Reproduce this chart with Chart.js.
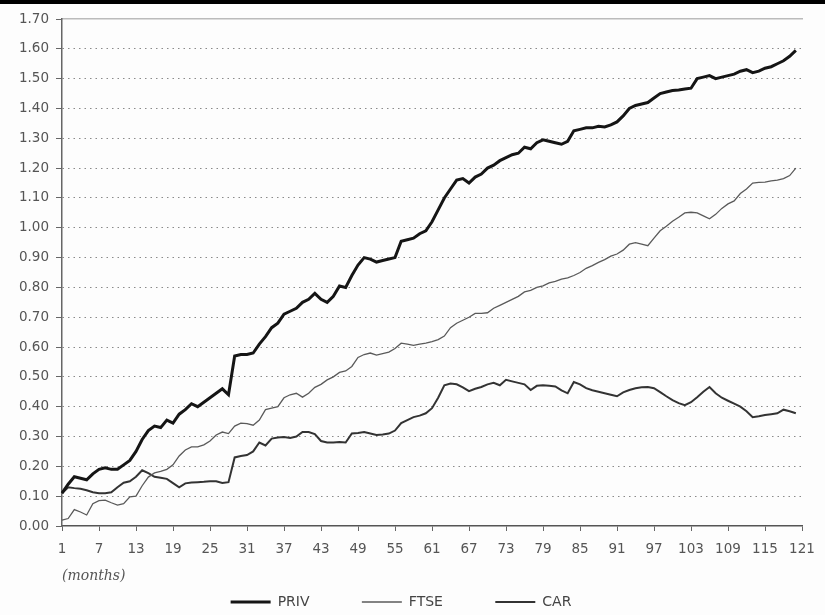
<!DOCTYPE html>
<html>
<head>
<meta charset="utf-8">
<script src="https://cdn.jsdelivr.net/npm/chart.js@4.4.1/dist/chart.umd.min.js"></script>
<style>
  html, body { margin: 0; padding: 0; background: #fdfdfd; }
  #wrap { position: relative; width: 825px; height: 615px; overflow: hidden; }
  #topbar { position: absolute; left: 0; top: 0; width: 825px; height: 4px; background: #000; }
  #note { position: absolute; left: 62px; top: 567px; font: italic 14px "DejaVu Serif", serif; color: #555; }
</style>
</head>
<body>
<div id="wrap">
  <canvas id="chart1" width="825" height="615"></canvas>
  <div id="topbar"></div>
  <div id="note">(months)</div>
</div>
<script>
// month index along the x axis (1..121)
let months = []
for (let i = 1; i <= 121; i++) { months.push(String(i)) }

// cumulative returns
const priv = [
  0.11, 0.14, 0.165, 0.16, 0.155, 0.175, 0.19, 0.195, 0.19, 0.19,
  0.205, 0.22, 0.25, 0.29, 0.32, 0.335, 0.33, 0.355, 0.345, 0.375,
  0.39, 0.41, 0.40, 0.415, 0.43, 0.445, 0.46, 0.44, 0.57, 0.575,
  0.575, 0.58, 0.61, 0.635, 0.665, 0.68, 0.71, 0.72, 0.73, 0.75,
  0.76, 0.78, 0.76, 0.75, 0.77, 0.805, 0.80, 0.84, 0.875, 0.90,
  0.895, 0.885, 0.89, 0.895, 0.90, 0.955, 0.96, 0.965, 0.98, 0.99,
  1.02, 1.06, 1.10, 1.13, 1.16, 1.165, 1.15, 1.17, 1.18, 1.20,
  1.21, 1.225, 1.235, 1.245, 1.25, 1.27, 1.265, 1.285, 1.295, 1.29,
  1.285, 1.28, 1.29, 1.325, 1.33, 1.335, 1.335, 1.34, 1.338, 1.345,
  1.355, 1.375, 1.40, 1.41, 1.415, 1.42, 1.435, 1.45, 1.455, 1.46,
  1.462, 1.465, 1.468, 1.50, 1.505, 1.51, 1.50, 1.505, 1.51, 1.515,
  1.525, 1.53, 1.52, 1.525, 1.535, 1.54, 1.55, 1.56, 1.575, 1.595
]
const ftse = [
  0.02, 0.025, 0.055, 0.047, 0.037, 0.075, 0.085, 0.087, 0.078, 0.07,
  0.075, 0.098, 0.10, 0.135, 0.164, 0.178, 0.183, 0.19, 0.205, 0.235,
  0.255, 0.265, 0.265, 0.272, 0.285, 0.305, 0.315, 0.31, 0.335, 0.345,
  0.343, 0.338, 0.355, 0.39, 0.395, 0.40, 0.43, 0.44, 0.445, 0.432,
  0.445, 0.465, 0.475, 0.49, 0.50, 0.515, 0.52, 0.535, 0.565, 0.575,
  0.58, 0.573, 0.578, 0.583, 0.595, 0.613, 0.61, 0.606, 0.61, 0.613,
  0.618, 0.625, 0.637, 0.665, 0.68, 0.69, 0.70, 0.713, 0.713, 0.715,
  0.73, 0.74, 0.75, 0.76, 0.77, 0.785, 0.79, 0.80, 0.805, 0.815,
  0.82, 0.828, 0.832, 0.84, 0.85, 0.864, 0.873, 0.884, 0.893, 0.905,
  0.912, 0.925, 0.945, 0.95, 0.945, 0.94, 0.965, 0.99, 1.005, 1.022,
  1.035, 1.05, 1.052, 1.05, 1.04, 1.03, 1.045, 1.065, 1.08, 1.09,
  1.115, 1.13, 1.15, 1.152, 1.153, 1.157, 1.16, 1.165, 1.175, 1.20
]
const car = [
  0.11, 0.13, 0.127, 0.125, 0.12, 0.113, 0.11, 0.11, 0.113, 0.13,
  0.145, 0.15, 0.165, 0.187, 0.177, 0.165, 0.162, 0.158, 0.144, 0.13,
  0.143, 0.146, 0.147, 0.148, 0.15, 0.15, 0.144, 0.147, 0.23, 0.235,
  0.238, 0.25, 0.28, 0.27, 0.293, 0.297, 0.298, 0.295, 0.30, 0.315,
  0.315, 0.308, 0.285, 0.28, 0.28, 0.282, 0.28, 0.31, 0.312, 0.315,
  0.31, 0.305, 0.307, 0.31, 0.32, 0.345, 0.355, 0.365, 0.37, 0.378,
  0.395, 0.43, 0.472, 0.478, 0.475, 0.465, 0.452, 0.46, 0.466, 0.475,
  0.48, 0.472, 0.49, 0.485, 0.48, 0.475, 0.456, 0.47, 0.472, 0.47,
  0.468, 0.455, 0.445, 0.483, 0.475, 0.462, 0.455, 0.45, 0.445, 0.44,
  0.435, 0.448, 0.456, 0.462, 0.465, 0.466, 0.462, 0.449, 0.435, 0.422,
  0.412, 0.405, 0.415, 0.432, 0.45, 0.466, 0.445, 0.43, 0.42, 0.41,
  0.40, 0.385, 0.365, 0.368, 0.372, 0.375, 0.378, 0.39, 0.385, 0.378
]

const axisFont = { family: "DejaVu Sans", size: 13.5 }

// first dataset is drawn on top
const data1 = {
  labels: months,
  datasets: [
    { label: "PRIV", data: priv, borderColor: "#151515", borderWidth: 3 },
    { label: "FTSE", data: ftse, borderColor: "#5a5a5a", borderWidth: 1.3 },
    { label: "CAR", data: car, borderColor: "#333333", borderWidth: 2 },
  ],
}

const config1 = {
  type: "line",
  data: data1,
  options: {
    responsive: false,
    animation: false,
    layout: { padding: { left: 0, top: 19, right: 23, bottom: -4 } },
    elements: { point: { radius: 0 }, line: { tension: 0 } },
    plugins: {
      tooltip: { enabled: false },
      legend: {
        position: "bottom",
        labels: {
          usePointStyle: true,
          pointStyle: "line",
          pointStyleWidth: 40,
          padding: 39,
          color: "#444",
          font: { family: "DejaVu Sans", size: 14 },
          // widen the gap after the first two entries
          generateLabels: (chart) => {
            const items = Chart.defaults.plugins.legend.labels.generateLabels(chart)
            items.forEach((it, i) => { if (i < 2) it.text = it.text + "   " })
            return items
          },
        },
      },
    },
    scales: {
      x: {
        type: "category",
        offset: false,
        grid: { drawOnChartArea: false, tickLength: 5, tickColor: "#666" },
        border: { color: "#555", width: 1.5 },
        ticks: {
          autoSkip: false,
          maxRotation: 0,
          padding: 10,
          color: "#555",
          font: axisFont,
          callback: function (val, i) {
            return (i % 6 === 0) ? this.getLabelForValue(val) : null
          },
        },
        afterFit: (scale) => { scale.height = 30 },
      },
      xTop: {
        type: "category",
        position: "top",
        grid: { display: false },
        ticks: { display: false },
        border: { color: "#bbb", width: 1.5 },
        afterFit: (scale) => { scale.height = 0 },
      },
      y: {
        min: 0,
        max: 1.7,
        ticks: {
          stepSize: 0.1,
          padding: 7,
          color: "#555",
          font: axisFont,
          callback: (v) => v.toFixed(2),
        },
        grid: {
          color: (c) => (Math.abs(c.tick.value) < 1e-6 || Math.abs(c.tick.value - 1.7) < 1e-6) ? "transparent" : "#8a8a8a",
          tickColor: "#666",
          tickLength: 6,
          lineWidth: 1,
        },
        border: { color: "#666", width: 1.5, dash: [1.5, 4] },
        afterFit: (scale) => { scale.width = 62 },
      },
    },
  },
}

const lineChart = new Chart(document.getElementById("chart1"), config1)
</script>
</body>
</html>
